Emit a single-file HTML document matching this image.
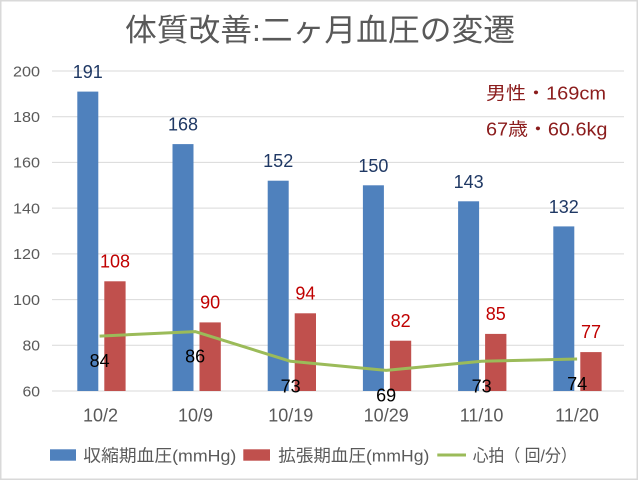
<!DOCTYPE html>
<html><head><meta charset="utf-8">
<style>
html,body{margin:0;padding:0;background:#fff;}
svg{display:block;}
text{font-family:"Liberation Sans","Noto Sans CJK JP",sans-serif;}
</style></head>
<body>
<svg width="640" height="481" viewBox="0 0 640 481" xmlns="http://www.w3.org/2000/svg">
<rect x="0" y="0" width="640" height="481" fill="#fff"/>
<rect x="0.75" y="0.75" width="636.5" height="478.5" fill="none" stroke="#d9d9d9" stroke-width="1.5"/>

<!-- title -->
<text x="125" y="41" font-size="31" fill="#595959" textLength="390" lengthAdjust="spacingAndGlyphs">体質改善:二ヶ月血圧の変遷</text>

<!-- gridlines -->
<g stroke="#d9d9d9" stroke-width="1">
<line x1="52" y1="71" x2="624" y2="71"/>
<line x1="52" y1="116.7" x2="624" y2="116.7"/>
<line x1="52" y1="162.4" x2="624" y2="162.4"/>
<line x1="52" y1="208.1" x2="624" y2="208.1"/>
<line x1="52" y1="253.9" x2="624" y2="253.9"/>
<line x1="52" y1="299.6" x2="624" y2="299.6"/>
<line x1="52" y1="345.3" x2="624" y2="345.3"/>
<line x1="52" y1="391" x2="624" y2="391"/>
</g>

<!-- y axis labels -->
<g font-size="15" fill="#595959" text-anchor="end">
<text x="40" y="76.3" textLength="27" lengthAdjust="spacingAndGlyphs">200</text>
<text x="40" y="122" textLength="27" lengthAdjust="spacingAndGlyphs">180</text>
<text x="40" y="167.7" textLength="27" lengthAdjust="spacingAndGlyphs">160</text>
<text x="40" y="213.4" textLength="27" lengthAdjust="spacingAndGlyphs">140</text>
<text x="40" y="259.2" textLength="27" lengthAdjust="spacingAndGlyphs">120</text>
<text x="40" y="304.9" textLength="27" lengthAdjust="spacingAndGlyphs">100</text>
<text x="40" y="350.6" textLength="17.5" lengthAdjust="spacingAndGlyphs">80</text>
<text x="40" y="396.3" textLength="17.5" lengthAdjust="spacingAndGlyphs">60</text>
</g>

<!-- blue bars -->
<g fill="#4f81bd">
<rect x="77.3" y="91.6" width="21" height="299.4"/>
<rect x="172.5" y="144.1" width="21" height="246.9"/>
<rect x="267.7" y="180.7" width="21" height="210.3"/>
<rect x="362.9" y="185.3" width="21" height="205.7"/>
<rect x="458.1" y="201.3" width="21" height="189.7"/>
<rect x="553.3" y="226.4" width="21" height="164.6"/>
</g>
<!-- red bars -->
<g fill="#c0504d">
<rect x="104.3" y="281.3" width="21.3" height="109.7"/>
<rect x="199.5" y="322.4" width="21.3" height="68.6"/>
<rect x="294.7" y="313.3" width="21.3" height="77.7"/>
<rect x="389.9" y="340.7" width="21.3" height="50.3"/>
<rect x="485.1" y="333.9" width="21.3" height="57.1"/>
<rect x="580.3" y="352.1" width="21.3" height="38.9"/>
</g>

<!-- line -->
<polyline points="99.6,336.1 195.1,331.6 290.6,361.3 386.1,370.4 481.6,361.3 577.1,359" fill="none" stroke="#9bbb59" stroke-width="3" stroke-linejoin="round"/>

<!-- blue labels -->
<g font-size="18" fill="#1f3864" text-anchor="middle">
<text x="87.8" y="77.9">191</text>
<text x="183" y="130.6">168</text>
<text x="278.2" y="167.2">152</text>
<text x="373.4" y="171.8">150</text>
<text x="468.6" y="187.8">143</text>
<text x="563.8" y="212.9">132</text>
</g>
<!-- red labels -->
<g font-size="18" fill="#c00000" text-anchor="middle">
<text x="115" y="267.5">108</text>
<text x="210.2" y="308.5">90</text>
<text x="305.4" y="299.4">94</text>
<text x="400.6" y="326.8">82</text>
<text x="495.8" y="320">85</text>
<text x="591" y="338.2">77</text>
</g>
<!-- line labels -->
<g font-size="18" fill="#000" text-anchor="middle">
<text x="99.6" y="367.2">84</text>
<text x="195.1" y="362.7">86</text>
<text x="290.6" y="392.4">73</text>
<text x="386.1" y="401.5">69</text>
<text x="481.6" y="392.4">73</text>
<text x="577.1" y="390.1">74</text>
</g>

<!-- x labels -->
<g font-size="18" fill="#595959" text-anchor="middle">
<text x="100.5" y="421.7">10/2</text>
<text x="195.5" y="421.7">10/9</text>
<text x="290.8" y="421.7">10/19</text>
<text x="386.2" y="421.7">10/29</text>
<text x="481.6" y="421.7">11/10</text>
<text x="577" y="421.7">11/20</text>
</g>

<!-- annotation -->
<g font-size="18" fill="#8b1c1c">
<text x="486" y="99.5" textLength="120" lengthAdjust="spacingAndGlyphs">男性・169cm</text>
<text x="486" y="135.5" textLength="121.5" lengthAdjust="spacingAndGlyphs">67歳・60.6kg</text>
</g>

<!-- legend -->
<rect x="50" y="449.3" width="26" height="11.4" fill="#4f81bd"/>
<text x="83.3" y="461.5" font-size="17" fill="#595959" textLength="153" lengthAdjust="spacingAndGlyphs">収縮期血圧(mmHg)</text>
<rect x="243.3" y="449.3" width="26.7" height="11.4" fill="#c0504d"/>
<text x="278.3" y="461.5" font-size="17" fill="#595959" textLength="151" lengthAdjust="spacingAndGlyphs">拡張期血圧(mmHg)</text>
<line x1="437.3" y1="455" x2="466" y2="455" stroke="#9bbb59" stroke-width="3"/>
<text x="472.7" y="461.5" font-size="17" fill="#595959" textLength="104" lengthAdjust="spacingAndGlyphs">心拍（ 回/分）</text>
</svg>
</body></html>
